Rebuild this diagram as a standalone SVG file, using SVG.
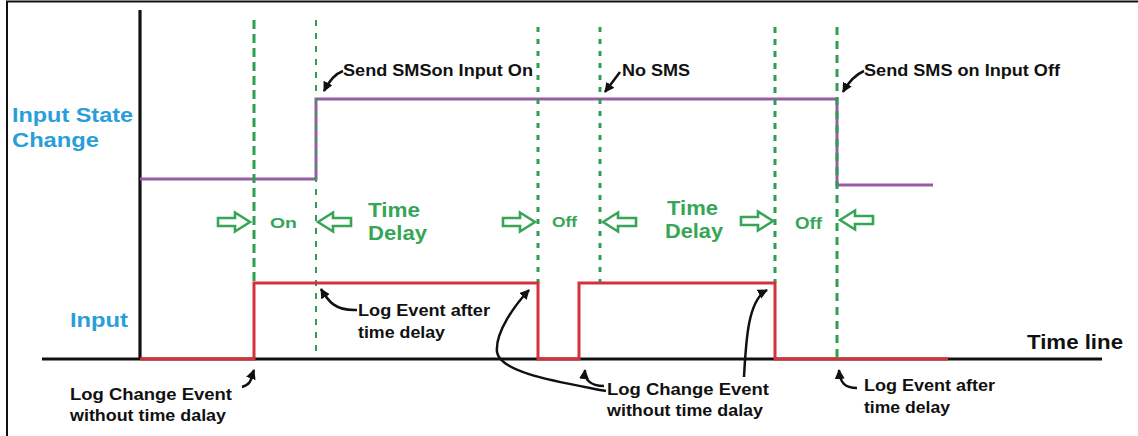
<svg xmlns="http://www.w3.org/2000/svg" width="1138" height="436" viewBox="0 0 1138 436">
<defs>
<style>
.t{font-family:"Liberation Sans",Arial,sans-serif;font-weight:bold}
.blk{fill:#111}
.blue{fill:#2a9ed9}
.grn{fill:#36a656}
.dash{stroke:#2e9e52;fill:none}
.ptr{stroke:#111;stroke-width:2.5;fill:none;marker-end:url(#ah)}
.blockarrow{fill:#fff;stroke:#36a656;stroke-width:2.6;stroke-linejoin:miter}
</style>
<marker id="ah" markerUnits="userSpaceOnUse" markerWidth="12" markerHeight="12" refX="9" refY="5" orient="auto">
<path d="M0,0 L10,5 L0,10 Z" fill="#111"/>
</marker>
<path id="ra" d="M0,-4 H17 V-9.5 L32,0 L17,9.5 V4 H0 Z"/>
<path id="la" d="M0,0 L15,-9.5 V-4 H33 V4 H15 V9.5 Z"/>
</defs>
<rect width="1138" height="436" fill="#fff"/>
<g id="frame" stroke="#111" stroke-width="2" fill="none">
<path d="M7,436 V1.5 H1138"/>
</g>
<g id="axes" stroke="#111" stroke-width="3.2" fill="none">
<line x1="140" y1="10" x2="140" y2="359"/>
<line x1="42" y1="359" x2="1102" y2="359"/>
</g>
<g id="input-state-signal">
<polyline points="140,179 316,179 316,99 837,99 837,185 933,185" fill="none" stroke="#9a5aa6" stroke-width="3"/>
</g>
<g id="markers">
<line class="dash" x1="254" y1="20" x2="254" y2="283" stroke-width="3" stroke-dasharray="9 5"/>
<line class="dash" x1="316" y1="20" x2="316" y2="358" stroke-width="2" stroke-dasharray="6 7"/>
<line class="dash" x1="538" y1="27" x2="538" y2="283" stroke-width="3" stroke-dasharray="5 7"/>
<line class="dash" x1="600" y1="27" x2="600" y2="283" stroke-width="3" stroke-dasharray="5 7"/>
<line class="dash" x1="775" y1="27" x2="775" y2="283" stroke-width="3" stroke-dasharray="6 6"/>
<line class="dash" x1="837" y1="27" x2="837" y2="358" stroke-width="3" stroke-dasharray="8 6"/>
</g>
<g id="input-signal">
<polyline points="140,359 254,359 254,283 538,283 538,359 579,359 579,283 775,283 775,359 948,359" fill="none" stroke="#d6303c" stroke-width="3"/>
</g>
<g id="interval-arrows">
<use href="#ra" class="blockarrow" x="218" y="222"/>
<use href="#la" class="blockarrow" x="318" y="222"/>
<use href="#ra" class="blockarrow" x="503" y="222"/>
<use href="#la" class="blockarrow" x="603" y="222"/>
<use href="#ra" class="blockarrow" x="741" y="221"/>
<use href="#la" class="blockarrow" x="840" y="220"/>
</g>
<g id="interval-labels">
<text class="t grn" x="270" y="228" font-size="15" textLength="27" lengthAdjust="spacingAndGlyphs">On</text>
<text class="t grn" x="368" y="217" font-size="21" textLength="52" lengthAdjust="spacingAndGlyphs">Time</text>
<text class="t grn" x="368" y="240" font-size="21" textLength="59" lengthAdjust="spacingAndGlyphs">Delay</text>
<text class="t grn" x="552" y="227" font-size="15" textLength="25" lengthAdjust="spacingAndGlyphs">Off</text>
<text class="t grn" x="667" y="215" font-size="21" textLength="51" lengthAdjust="spacingAndGlyphs">Time</text>
<text class="t grn" x="665" y="238" font-size="21" textLength="58" lengthAdjust="spacingAndGlyphs">Delay</text>
<text class="t grn" x="795" y="229" font-size="17" textLength="27" lengthAdjust="spacingAndGlyphs">Off</text>
</g>
<g id="axis-labels">
<text class="t blue" x="12" y="122" font-size="20" textLength="121" lengthAdjust="spacingAndGlyphs">Input State</text>
<text class="t blue" x="12" y="147" font-size="20" textLength="87" lengthAdjust="spacingAndGlyphs">Change</text>
<text class="t blue" x="70" y="327" font-size="20" textLength="58" lengthAdjust="spacingAndGlyphs">Input</text>
<text class="t blk" x="1027" y="349" font-size="20" textLength="96" lengthAdjust="spacingAndGlyphs">Time line</text>
</g>
<g id="annotations">
<text class="t blk" x="343" y="76" font-size="16" textLength="190" lengthAdjust="spacingAndGlyphs">Send SMSon Input On</text>
<text class="t blk" x="622" y="76" font-size="16" textLength="68" lengthAdjust="spacingAndGlyphs">No SMS</text>
<text class="t blk" x="864" y="76" font-size="16" textLength="196" lengthAdjust="spacingAndGlyphs">Send SMS on Input Off</text>
<text class="t blk" x="358" y="316" font-size="16" textLength="132" lengthAdjust="spacingAndGlyphs">Log Event after</text>
<text class="t blk" x="358" y="338" font-size="16" textLength="87" lengthAdjust="spacingAndGlyphs">time delay</text>
<text class="t blk" x="70" y="400" font-size="16" textLength="162" lengthAdjust="spacingAndGlyphs">Log Change Event</text>
<text class="t blk" x="70" y="421" font-size="16" textLength="156" lengthAdjust="spacingAndGlyphs">without time dalay</text>
<text class="t blk" x="607" y="395" font-size="16" textLength="162" lengthAdjust="spacingAndGlyphs">Log Change Event</text>
<text class="t blk" x="607" y="416" font-size="16" textLength="156" lengthAdjust="spacingAndGlyphs">without time dalay</text>
<text class="t blk" x="864" y="391" font-size="16" textLength="131" lengthAdjust="spacingAndGlyphs">Log Event after</text>
<text class="t blk" x="864" y="413" font-size="16" textLength="86" lengthAdjust="spacingAndGlyphs">time delay</text>
</g>
<g id="connectors">
<path class="ptr" d="M343,71 Q332,75 324,91"/>
<path class="ptr" d="M620,72 L605,92"/>
<path class="ptr" d="M864,71 Q852,76 843,92"/>
<path class="ptr" d="M357,310 C335,311 328,301 321,289"/>
<path class="ptr" d="M242,387 C252,384 251,378 254,370"/>
<path class="ptr" d="M606,391 C560,382 500,373 497,352 C495,332 515,305 529,290"/>
<path class="ptr" d="M604,386 C590,386 584,379 585,370"/>
<path class="ptr" d="M744,377 C746,340 748,300 767,290"/>
<path class="ptr" d="M857,388 C845,388 840,383 839,370"/>
</g>
</svg>
